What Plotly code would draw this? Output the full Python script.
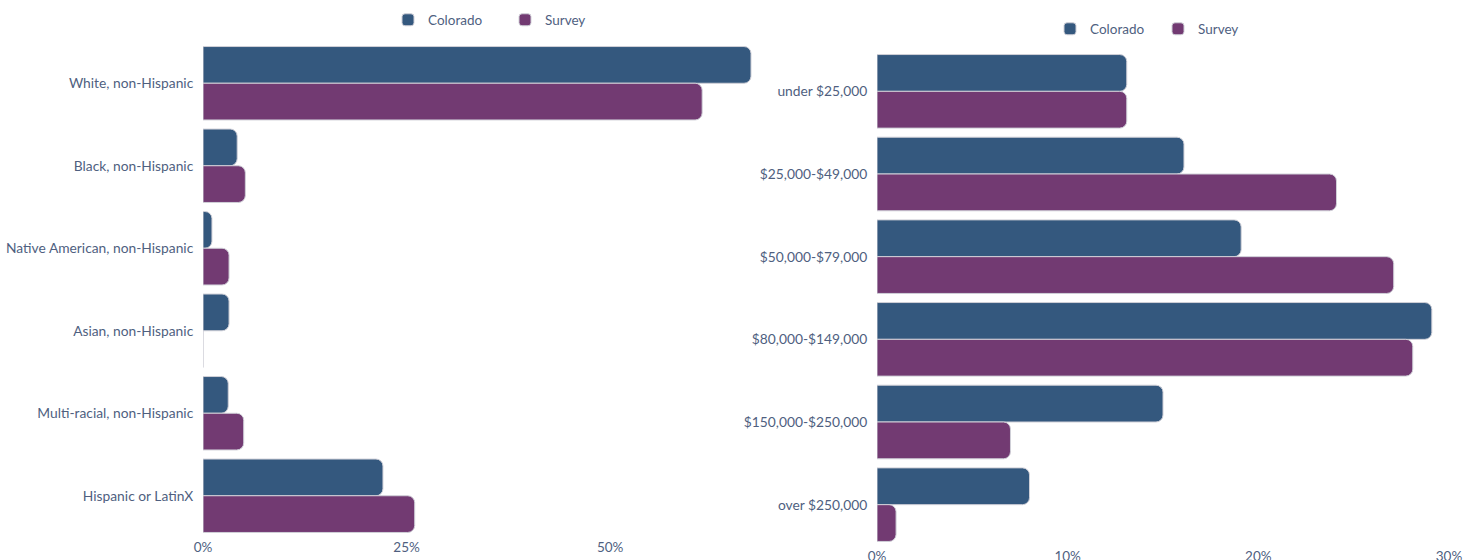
import plotly.graph_objects as go

race_categories = ["White, non-Hispanic", "Black, non-Hispanic", "Native American, non-Hispanic",
                   "Asian, non-Hispanic", "Multi-racial, non-Hispanic", "Hispanic or LatinX"]
race_colorado = [67.3, 4.2, 1.1, 3.2, 3.1, 22.1]
race_survey = [61.3, 5.2, 3.2, 0, 5.0, 26.0]
race_ticks = [0, 25, 50]

income_categories = ["under $25,000", "$25,000-$49,000", "$50,000-$79,000",
                     "$80,000-$149,000", "$150,000-$250,000", "over $250,000"]
income_colorado = [13.1, 16.1, 19.1, 29.1, 15.0, 8.0]
income_survey = [13.1, 24.1, 27.1, 28.1, 7.0, 1.0]
income_ticks = [0, 10, 20, 30]

series_names = ["Colorado", "Survey"]
colors = ["#34587e", "#723a72"]
text_color = "#4f5f7f"
font_family = "Lato, 'Open Sans', sans-serif"

W, H = 1477, 560

fig = go.Figure()

def add_bars(cats, vals, name, color, xa, ya, legend):
    fig.add_trace(go.Bar(
        y=cats, x=vals, name=name, orientation="h",
        marker=dict(color=color, cornerradius=7, line=dict(color="#d0d0d8", width=1)),
        xaxis=xa, yaxis=ya, legend=legend, showlegend=True,
        hovertemplate="%{y}: %{x}%<extra>" + name + "</extra>",
    ))

add_bars(race_categories, race_colorado, series_names[0], colors[0], "x", "y", "legend")
add_bars(race_categories, race_survey, series_names[1], colors[1], "x", "y", "legend")
add_bars(income_categories, income_colorado, series_names[0], colors[0], "x2", "y2", "legend2")
add_bars(income_categories, income_survey, series_names[1], colors[1], "x2", "y2", "legend2")

axis_font = dict(family=font_family, size=13.8, color=text_color)
xtick_font = dict(family=font_family, size=13.5, color=text_color)

common_x = dict(showgrid=False, zeroline=False, showline=False, automargin=False,
                ticks="", fixedrange=True, tickfont=xtick_font)
common_y = dict(showgrid=False, zeroline=False, showline=False, automargin=False,
                ticks="outside", ticklen=6, tickcolor="rgba(0,0,0,0)", fixedrange=True,
                tickfont=axis_font, autorange="reversed")

leg_common = dict(orientation="h", yanchor="middle", xanchor="center",
                  font=dict(family=font_family, size=13.5, color=text_color),
                  entrywidthmode="pixels", bgcolor="rgba(0,0,0,0)")

fig.update_layout(
    width=W, height=H,
    margin=dict(l=0, r=0, t=0, b=0, autoexpand=False),
    paper_bgcolor="white", plot_bgcolor="white",
    barmode="group", bargap=0.11, bargroupgap=0.0,
    font=dict(family=font_family, size=13.5, color=text_color),
    xaxis=dict(domain=[203 / W, 773 / W], range=[0, 70], tickvals=race_ticks,
               ticktext=[f"{v}%" for v in race_ticks], anchor="y", **common_x),
    yaxis=dict(domain=[(H - 537) / H, (H - 42) / H], anchor="x", **common_y),
    xaxis2=dict(domain=[877 / W, 1449 / W], range=[0, 30], tickvals=income_ticks,
                ticktext=[f"{v}%" for v in income_ticks], anchor="y2", **common_x),
    yaxis2=dict(domain=[(H - 546) / H, (H - 50) / H], anchor="x2", **common_y),
    legend=dict(x=505 / W, y=(H - 20) / H, entrywidth=72, **leg_common),
    legend2=dict(x=1158 / W, y=(H - 29) / H, entrywidth=63, **leg_common),
)

fig.write_html("out.html", config={"displayModeBar": False},
               post_script="document.body.style.margin='0';document.body.style.overflow='hidden';")
